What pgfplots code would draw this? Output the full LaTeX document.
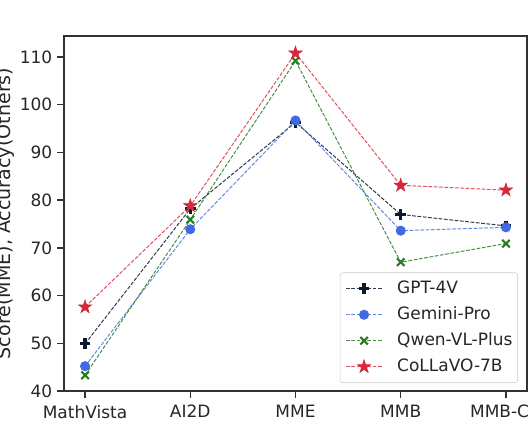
\documentclass[border=0pt]{standalone}
\usepackage{fontspec}
\setmainfont{DejaVu Sans}
\usepackage{pgfplots}
\pgfplotsset{compat=1.18}
\definecolor{cgpt}{RGB}{12,26,48}
\definecolor{cgem}{RGB}{65,105,225}
\definecolor{cqwen}{RGB}{40,125,35}
\definecolor{ccol}{RGB}{214,40,57}
\definecolor{txtc}{RGB}{38,38,38}
\definecolor{axc}{RGB}{50,50,50}
\pgfdeclareplotmark{fstar}{%
  \pgfpathmoveto{\pgfpointpolar{90}{\pgfplotmarksize}}%
  \pgfpathlineto{\pgfpointpolar{126}{0.382\pgfplotmarksize}}%
  \pgfpathlineto{\pgfpointpolar{162}{\pgfplotmarksize}}%
  \pgfpathlineto{\pgfpointpolar{198}{0.382\pgfplotmarksize}}%
  \pgfpathlineto{\pgfpointpolar{234}{\pgfplotmarksize}}%
  \pgfpathlineto{\pgfpointpolar{270}{0.382\pgfplotmarksize}}%
  \pgfpathlineto{\pgfpointpolar{306}{\pgfplotmarksize}}%
  \pgfpathlineto{\pgfpointpolar{342}{0.382\pgfplotmarksize}}%
  \pgfpathlineto{\pgfpointpolar{18}{\pgfplotmarksize}}%
  \pgfpathlineto{\pgfpointpolar{54}{0.382\pgfplotmarksize}}%
  \pgfpathclose
  \pgfusepathqfillstroke
}
\begin{document}
\begin{tikzpicture}
\useasboundingbox (-48pt,-38.25pt) rectangle (349.5pt,293.25pt);
\clip (-48pt,-38.25pt) rectangle (349.5pt,293.25pt);
\begin{axis}[
  at={(0pt,0pt)}, anchor=south west,
  scale only axis, width=347.25pt, height=266.25pt,
  xmin=-0.2, xmax=4.2, ymin=40, ymax=114.4,
  xtick={0,1,2,3,4},
  xticklabels={MathVista,AI2D,MME,MMB,MMB-CN},
  ytick={40,50,...,110},
  tick align=outside, major tick length=5.25pt,
  xtick pos=lower, ytick pos=left,
  tick style={line width=1pt, color=axc},
  axis line style={line width=1pt, color=axc},
  /pgf/number format/assume math mode=true,
  tick label style={font=\fontsize{12.75}{15}\selectfont, text=txtc},
  xticklabel style={yshift=-2pt},
  ylabel={Score(MME), Accuracy(Others)},
  ylabel style={font=\fontsize{14.3}{17}\selectfont, text=txtc,
    at={(axis description cs:-0.1160,0.5)}, anchor=base},
  legend style={at={(axis description cs:0.9806,0.0225)}, anchor=south east,
    draw=black!20, rounded corners=2pt, fill=white,
    font=\fontsize{12.75}{15}\selectfont, text=txtc,
    inner xsep=4pt, inner ysep=6pt, row sep=7.5pt, column sep=0pt,
    nodes={inner sep=0pt, text height=9.5pt, text depth=2.5pt},
    cells={anchor=west}},
  legend image code/.code={\draw[mark repeat=2,mark phase=2,#1] plot coordinates {(0pt,0pt)(13.5pt,0pt)(27pt,0pt)};},
  legend cell align=left,
]
\addplot[color=cgpt, line width=0.75pt, dash pattern=on 2.8pt off 1.2pt, draw opacity=0.85,
  mark=+, mark size=4pt, mark options={solid, line width=2.4pt, draw opacity=1}]
  coordinates {(0,49.9) (1,78.2) (2,96.3) (3,77.0) (4,74.6)};
\addlegendentry{\hspace{11pt}GPT-4V}
\addplot[color=cgem, line width=0.75pt, dash pattern=on 2.8pt off 1.2pt, draw opacity=0.8,
  mark=*, mark size=3.5pt, mark options={solid, line width=0.5pt, draw opacity=1, fill opacity=1}]
  coordinates {(0,45.2) (1,73.9) (2,96.7) (3,73.6) (4,74.3)};
\addlegendentry{\hspace{11pt}Gemini-Pro}
\addplot[color=cqwen, line width=0.75pt, dash pattern=on 2.8pt off 1.2pt, draw opacity=0.85,
  mark=x, mark size=4pt, mark options={solid, line width=1.6pt, draw opacity=1}]
  coordinates {(0,43.3) (1,75.9) (2,109.2) (3,67.0) (4,70.9)};
\addlegendentry{\hspace{11pt}Qwen-VL-Plus}
\addplot[color=ccol, line width=0.75pt, dash pattern=on 2.8pt off 1.2pt, draw opacity=0.8,
  mark=fstar, mark size=5.3pt, mark options={solid, line width=0.4pt, draw opacity=1, fill opacity=1}]
  coordinates {(0,57.6) (1,78.8) (2,110.8) (3,83.1) (4,82.1)};
\addlegendentry{\hspace{11pt}CoLLaVO-7B}
\end{axis}
\end{tikzpicture}
\end{document}
